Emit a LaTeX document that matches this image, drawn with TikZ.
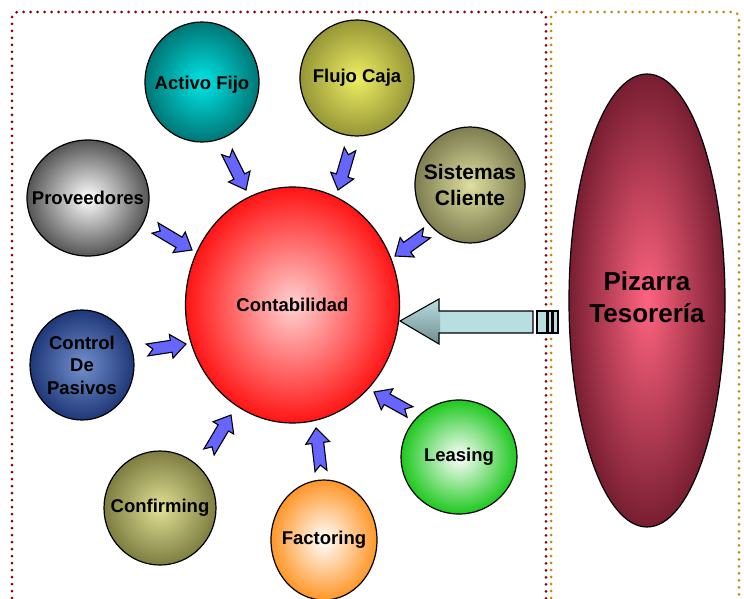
\documentclass[tikz,border=0pt]{standalone}
\usepackage{fontspec}
\setmainfont{Liberation Sans}
\usetikzlibrary{shapes.geometric,calc}
\definecolor{boxred}{RGB}{140,0,0}
\definecolor{boxgold}{RGB}{195,135,15}
\definecolor{arrblue}{RGB}{102,102,255}
\definecolor{lteal}{RGB}{184,222,226}
\definecolor{dteal}{RGB}{112,140,142}
\newcommand\blockarr[2]{\draw[blockarrow] ($(#1)!6pt!90:(#2)$) -- ($(#2)!15pt!(#1)!6pt!-90:(#1)$) -- ($(#2)!15pt!(#1)!12pt!-90:(#1)$) -- (#2) -- ($(#2)!15pt!(#1)!12pt!90:(#1)$) -- ($(#2)!15pt!(#1)!6pt!90:(#1)$) -- ($(#1)!6pt!-90:(#2)$) -- ($(#1)!6pt!(#2)$) -- cycle;}
\tikzset{
  ball/.style n args={4}{ellipse, draw=black, line width=1.2pt, inner sep=0pt, outer sep=0pt,
    minimum width=#1, minimum height=#2, shade, shading=radial, inner color=#3, outer color=#4},
  lab/.style={font=\fontsize{18.5}{22.5}\selectfont\bfseries, align=center, inner sep=0pt},
  blockarrow/.style={draw=black, line width=1.1pt, fill=arrblue, line join=miter},
  dotbox/.style={line width=3pt, dash pattern=on 0pt off 7pt, line cap=round, rounded corners=6pt}
}
\begin{document}
\begin{tikzpicture}[x=1pt,y=-1pt]
\useasboundingbox (0,0) rectangle (744,599);
% dotted frames
\draw[dotbox, draw=boxred] (12,640) -- (12,12) -- (546,12) -- (546,640);
\draw[dotbox, draw=boxgold] (551,640) -- (551,12) -- (739,12) -- (739,640);
% central node and satellites
\node[ball={214pt}{236pt}{{rgb,255:red,255;green,210;blue,210}}{{rgb,255:red,255;green,20;blue,20}},
  label={[lab]center:Contabilidad}] (contab) at (292.5,305) {};
\node[ball={114pt}{120pt}{{rgb,255:red,0;green,230;blue,230}}{{rgb,255:red,0;green,118;blue,118}},
  label={[lab,yshift=-3pt]center:Activo Fijo}] (activo) at (202,82) {};
\node[ball={114pt}{116pt}{{rgb,255:red,238;green,238;blue,100}}{{rgb,255:red,150;green,150;blue,55}},
  label={[lab]center:Flujo Caja}] (flujo) at (357,78) {};
\node[ball={110pt}{116pt}{{rgb,255:red,222;green,222;blue,160}}{{rgb,255:red,125;green,125;blue,80}},
  label={[lab,font=\fontsize{21}{26}\selectfont\bfseries]center:Sistemas\\Cliente}] (sist) at (470,185) {};
\node[ball={122pt}{116pt}{white}{{rgb,255:red,85;green,85;blue,85}},
  label={[lab]center:Proveedores}] (prov) at (88,198) {};
\node[ball={104pt}{110pt}{{rgb,255:red,115;green,145;blue,205}}{{rgb,255:red,30;green,55;blue,120}},
  label={[lab]center:Control\\De\\Pasivos}] (control) at (82,365) {};
\node[ball={112pt}{114pt}{{rgb,255:red,225;green,225;blue,150}}{{rgb,255:red,125;green,125;blue,65}},
  label={[lab]center:Confirming}] (confirm) at (160,508) {};
\node[ball={106pt}{120pt}{white}{{rgb,255:red,255;green,150;blue,40}},
  label={[lab]center:Factoring}] (factoring) at (324,540) {};
\node[ball={116pt}{114pt}{white}{{rgb,255:red,30;green,200;blue,30}},
  label={[lab]center:Leasing}] (leasing) at (459,457) {};
\node[ball={156pt}{453pt}{{rgb,255:red,255;green,100;blue,128}}{{rgb,255:red,120;green,30;blue,50}},
  label={[lab,font=\fontsize{26}{32}\selectfont\bfseries,yshift=3pt]center:Pizarra\\Tesorería}] (pizarra) at (647,300.5) {};
% small block arrows (tail, tip)
\coordinate (a1t) at (227,152); \coordinate (a1h) at (246,190);
\coordinate (a2t) at (350,149); \coordinate (a2h) at (338,190);
\coordinate (a3t) at (155,228); \coordinate (a3h) at (192,250);
\coordinate (a4t) at (427,233); \coordinate (a4h) at (395,256);
\coordinate (a5t) at (147,350); \coordinate (a5h) at (186,344);
\coordinate (a6t) at (209,452); \coordinate (a6h) at (231,415);
\coordinate (a7t) at (321,471); \coordinate (a7h) at (316,428);
\coordinate (a8t) at (410,412); \coordinate (a8h) at (374,392);
\blockarr{a1t}{a1h}
\blockarr{a2t}{a2h}
\blockarr{a3t}{a3h}
\blockarr{a4t}{a4h}
\blockarr{a5t}{a5h}
\blockarr{a6t}{a6h}
\blockarr{a7t}{a7h}
\blockarr{a8t}{a8h}
% big arrow from Pizarra to Contabilidad
\coordinate (bigtip) at (400,321);
\fill[lteal] (439,311) rectangle (533,333);
\shade[top color=lteal, bottom color=dteal] (bigtip) -- (439,299) -- (439,311) -- (440,311) -- (440,333) -- (439,333) -- (439,344) -- cycle;
\draw[line width=1.1pt, line join=miter] (bigtip) -- (439,299) -- (439,311) -- (533,311) -- (533,333) -- (439,333) -- (439,344) -- cycle;
\draw[line width=1.1pt, fill=lteal] (537,311) rectangle (547,333);
\draw[line width=1.1pt, fill=lteal] (548.5,311) rectangle (552,333);
\draw[line width=1.1pt, fill=lteal] (553.5,311) rectangle (558,333);
\end{tikzpicture}
\end{document}
